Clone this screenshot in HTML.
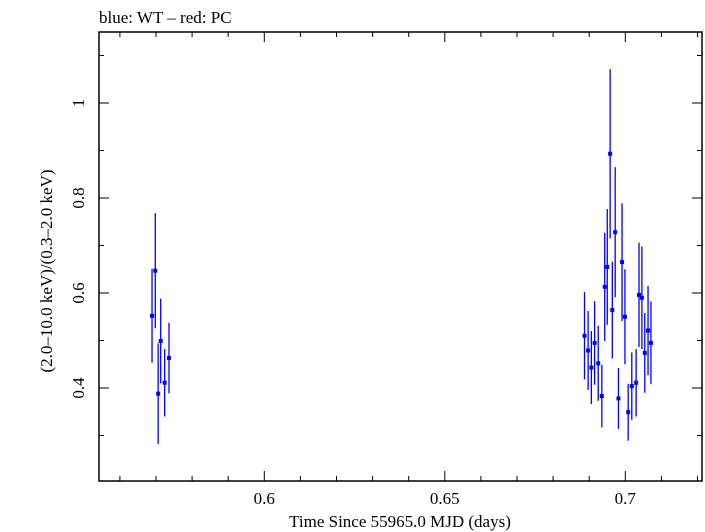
<!DOCTYPE html>
<html><head><meta charset="utf-8"><style>
body{margin:0;background:#fff}
svg{display:block;font-family:"Liberation Serif",serif}
</style></head><body>
<svg id="chart" width="705" height="532" viewBox="0 0 705 532" xmlns="http://www.w3.org/2000/svg">
<text x="99" y="23" font-size="17">blue: WT – red: PC</text>
<rect x="99" y="32" width="603" height="449" fill="none" stroke="#000" stroke-width="1.5"/>
<g id="axes"></g>
<g id="marks"></g>
<text x="400" y="527" font-size="17" text-anchor="middle">Time Since 55965.0 MJD (days)</text>
<text transform="translate(52,271) rotate(-90)" font-size="17" text-anchor="middle">(2.0–10.0 keV)/(0.3–2.0 keV)</text>
</svg>
<script>
const times=[0.5689,0.5698,0.5713,0.5706,0.5724,0.5736,0.6887,0.6897,0.6906,0.6915,0.6925,0.6935,0.6943,0.6950,0.6958,0.6964,0.6972,0.6981,0.6991,0.6999,0.7008,0.7018,0.7030,0.7038,0.7046,0.7054,0.7063,0.7071];
const ratios=[0.552,0.647,0.499,0.388,0.411,0.463,0.510,0.479,0.443,0.495,0.452,0.383,0.613,0.655,0.893,0.564,0.728,0.378,0.665,0.550,0.349,0.404,0.411,0.596,0.590,0.474,0.521,0.495];
const errors=[0.099,0.121,0.089,0.106,0.071,0.074,0.092,0.083,0.077,0.088,0.079,0.066,0.114,0.122,0.178,0.102,0.137,0.064,0.124,0.100,0.060,0.071,0.071,0.110,0.108,0.084,0.094,0.087];
const xTicks=[0.6,0.65,0.7];
const xTickLabels=["0.6","0.65","0.7"];
const yTicks=[0.4,0.6,0.8,1.0];
const yTickLabels=["0.4","0.6","0.8","1"];
const L=99,R=702,T=32,B=481;
const X=t=>264.3+(t-0.6)*3610;
const Y=v=>388-(v-0.4)*475;
const NS="http://www.w3.org/2000/svg";
function mk(tag,attrs,parent){const e=document.createElementNS(NS,tag);for(const k in attrs)e.setAttribute(k,attrs[k]);parent.appendChild(e);return e;}
const ax=document.getElementById('axes');
// minor x ticks
for(let i=0;i<=17;i++){const t=0.56+i*0.01;const x=X(t);if(x<L||x>R)continue;const major=xTicks.some(v=>Math.abs(v-t)<1e-6);const len=major?10:5;
const a=mk('line',{x1:x,x2:x,y1:B,y2:B-len,stroke:'#000','stroke-width':1},ax);


const b=mk('line',{x1:x,x2:x,y1:T,y2:T+len,stroke:'#000','stroke-width':1},ax);

}
xTicks.forEach((t,i)=>{const tx=mk('text',{x:X(t),y:504,'font-size':17,'text-anchor':'middle'},ax);tx.textContent=xTickLabels[i];

});
for(let i=0;i<=9;i++){const v=0.3+i*0.1;const y=Y(v);if(y<T||y>B)continue;const major=yTicks.some(w=>Math.abs(w-v)<1e-6);const len=major?10:5;
const a=mk('line',{x1:L,x2:L+len,y1:y,y2:y,stroke:'#000','stroke-width':1},ax);


const b=mk('line',{x1:R,x2:R-len,y1:y,y2:y,stroke:'#000','stroke-width':1},ax);

}
yTicks.forEach((v,i)=>{const tx=mk('text',{transform:`translate(84,${Y(v)}) rotate(-90)`,'font-size':17,'text-anchor':'middle'},ax);tx.textContent=yTickLabels[i];

});
const mg=document.getElementById('marks');
times.forEach((t,i)=>{const x=X(t),y=Y(ratios[i]);
const g=mk('g',{},mg);


mk('line',{x1:x,x2:x,y1:Y(ratios[i]+errors[i]),y2:Y(ratios[i]-errors[i]),stroke:'#0000ff','stroke-width':1.3},g);
mk('rect',{x:x-2,y:y-2,width:4,height:4,fill:'#0000ff'},g);});
</script>
</body></html>
